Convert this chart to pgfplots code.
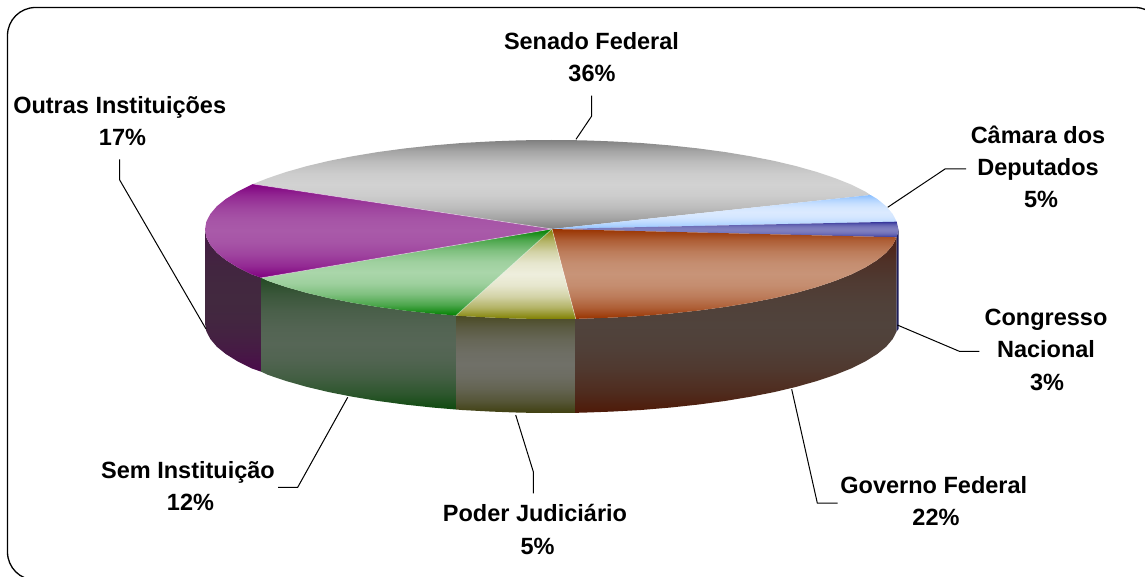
\documentclass[border=0pt]{standalone}
\usepackage{fontspec}
\setmainfont{Liberation Sans}
\usepackage{pgfplots}
\pgfplotsset{compat=1.18}

% Slice colours: edge and centre of each top face
\definecolor{senadoE}{HTML}{808080}\definecolor{senadoM}{HTML}{D2D2D2}
\definecolor{camaraE}{HTML}{8CC0FF}\definecolor{camaraM}{HTML}{DBEAFF}
\definecolor{congE}{HTML}{333399}\definecolor{congM}{HTML}{8080C0}
\definecolor{govE}{HTML}{993300}\definecolor{govM}{HTML}{C89478}
\definecolor{judE}{HTML}{808000}\definecolor{judM}{HTML}{EEEEDD}
\definecolor{semE}{HTML}{008000}\definecolor{semM}{HTML}{AAD6AA}
\definecolor{outE}{HTML}{800080}\definecolor{outM}{HTML}{A95AA9}
% Side walls: upper edge, middle, lower edge
\definecolor{outWa}{RGB}{68,24,68}\definecolor{outWb}{RGB}{66,41,63}\definecolor{outWc}{RGB}{75,10,75}
\definecolor{semWa}{RGB}{36,74,36}\definecolor{semWb}{RGB}{86,102,86}\definecolor{semWc}{RGB}{14,74,14}
\definecolor{judWa}{RGB}{74,74,36}\definecolor{judWb}{RGB}{112,112,104}\definecolor{judWc}{RGB}{64,64,16}
\definecolor{govWa}{RGB}{78,32,20}\definecolor{govWb}{RGB}{80,67,60}\definecolor{govWc}{RGB}{79,26,8}
\definecolor{congW}{RGB}{30,30,90}

% Rounded three-stop gradient: edges ease into a broad middle band
\colorlet{gradTop}{black}\colorlet{gradMid}{gray}\colorlet{gradBot}{black}
\pgfdeclareverticalshading[gradTop,gradMid,gradBot]{discgrad}{100bp}{%
  color(0bp)=(gradBot); color(25bp)=(gradBot);
  color(31.25bp)=(gradMid!45!gradBot); color(37.5bp)=(gradMid!75!gradBot);
  color(43.75bp)=(gradMid!93!gradBot); color(50bp)=(gradMid);
  color(56.25bp)=(gradMid!93!gradTop); color(62.5bp)=(gradMid!75!gradTop);
  color(68.75bp)=(gradMid!45!gradTop); color(75bp)=(gradTop); color(100bp)=(gradTop)}

\pgfplotsset{
  wall/.style n args={3}{draw=none,shade,shading=discgrad,
    /utils/exec={\colorlet{gradTop}{#1}\colorlet{gradMid}{#2}\colorlet{gradBot}{#3}}},
  face/.style 2 args={wall={#1}{#2}{#1}},
  leader/.style={black,line width=1pt,line join=miter},
  seam/.style={white,opacity=0.45,line width=0.7pt},
}
\tikzset{lab/.style={anchor=base,inner sep=0pt,text=black,
  font=\bfseries\fontsize{23.5}{28}\selectfont}}

\begin{document}
\begin{tikzpicture}
\useasboundingbox (0,0) rectangle (1145pt,577pt);
\begin{axis}[at={(0,0)},anchor=south west,scale only axis,
  width=1145pt,height=577pt,xmin=0,xmax=1145,ymin=0,ymax=577,
  y dir=reverse,axis lines=none,clip=false]

% outer frame, running past the right and lower page edges
\draw[black,line width=1.3pt,rounded corners=28pt]
  (axis cs:7.5,7.5) rectangle (axis cs:1163,580);

% side walls of the disc
\addplot[wall={outWa}{outWb}{outWc}] coordinates {
 (261.5,277.8)(251.4,274.3)(237.5,267.3)(225.9,260.1)(216.8,252.7)(210.3,245)(206.3,237.3)(205,229.5)
 (205,323.5)(206.3,331.3)(210.3,339)(216.8,346.7)(225.9,354.1)(237.5,361.3)(251.4,368.3)(261.5,371.8)} --cycle;
\addplot[wall={semWa}{semWb}{semWc}] coordinates {
 (456,315.5)(433,313.6)(405.1,310.6)(378.2,307)(352.8,302.8)(328.8,298.1)(306.5,292.8)(286.1,287)(267.7,280.8)(261.5,277.8)
 (261.5,371.8)(267.7,374.8)(286.1,381)(306.5,386.8)(328.8,392.1)(352.8,396.8)(378.2,401)(405.1,404.6)(433,407.6)(456,409.5)} --cycle;
\addplot[wall={judWa}{judWb}{judWc}] coordinates {
 (575.7,318.8)(551.5,319)(521.3,318.7)(491.3,317.6)(461.8,316)(456,315.5)
 (456,409.5)(461.8,410)(491.3,411.6)(521.3,412.7)(551.5,413)(575.7,412.8)} --cycle;
\addplot[wall={govWa}{govWb}{govWc}] coordinates {
 (896.7,237.3)(892.7,245)(886.2,252.7)(877.1,260.1)(865.5,267.3)(851.6,274.3)(835.3,280.8)(816.9,287)(796.5,292.8)(774.2,298.1)(750.2,302.8)(724.8,307)(697.9,310.6)(670,313.6)(641.2,316)(611.7,317.6)(581.7,318.7)(575.7,318.8)
 (575.7,412.8)(581.7,412.7)(611.7,411.6)(641.2,410)(670,407.6)(697.9,404.6)(724.8,401)(750.2,396.8)(774.2,392.1)(796.5,386.8)(816.9,381)(835.3,374.8)(851.6,368.3)(865.5,361.3)(877.1,354.1)(886.2,346.7)(892.7,339)(896.7,331.3)} --cycle;
\addplot[draw=none,fill=congW] coordinates {
 (898.5,229.5)(896.7,237.3)(896.7,331.3)(898.5,329)} --cycle;

% top faces, one wedge per institution
\addplot[face={senadoE}{senadoM}] coordinates {
 (552,229)(253,184)(267.7,178.2)(286.1,172)(306.5,166.2)(328.8,160.9)(352.8,156.2)(378.2,152)(405.1,148.4)(433,145.4)(461.8,143)(491.3,141.4)(521.3,140.3)(551.5,140)(581.7,140.3)(611.7,141.4)(641.2,143)(670,145.4)(697.9,148.4)(724.8,152)(750.2,156.2)(774.2,160.9)(796.5,166.2)(816.9,172)(835.3,178.2)(851.6,184.7)(865.5,191.7)(870.5,195)} --cycle;
\addplot[face={camaraE}{camaraM}] coordinates {
 (552,229)(870.5,195)(877.1,198.9)(886.2,206.3)(892.7,214)(896.7,221.7)} --cycle;
\addplot[face={congE}{congM}] coordinates {
 (552,229)(896.7,221.7)(898.5,229.5)(896.7,237.3)} --cycle;
\addplot[face={govE}{govM}] coordinates {
 (552,229)(896.7,237.3)(892.7,245)(886.2,252.7)(877.1,260.1)(865.5,267.3)(851.6,274.3)(835.3,280.8)(816.9,287)(796.5,292.8)(774.2,298.1)(750.2,302.8)(724.8,307)(697.9,310.6)(670,313.6)(641.2,316)(611.7,317.6)(581.7,318.7)(575.7,318.8)} --cycle;
\addplot[face={judE}{judM}] coordinates {
 (552,229)(575.7,318.8)(551.5,319)(521.3,318.7)(491.3,317.6)(461.8,316)(456,315.5)} --cycle;
\addplot[face={semE}{semM}] coordinates {
 (552,229)(456,315.5)(433,313.6)(405.1,310.6)(378.2,307)(352.8,302.8)(328.8,298.1)(306.5,292.8)(286.1,287)(267.7,280.8)(261.5,277.8)} --cycle;
\addplot[face={outE}{outM}] coordinates {
 (552,229)(261.5,277.8)(251.4,274.3)(237.5,267.3)(225.9,260.1)(216.8,252.7)(210.3,245)(206.3,237.3)(205,229.5)(206.3,221.7)(210.3,214)(216.8,206.3)(225.9,198.9)(237.5,191.7)(253,184)} --cycle;

% pale seams between neighbouring wedges
\addplot[seam] coordinates {(552,229)(253,184)};
\addplot[seam] coordinates {(552,229)(261.5,277.8)};
\addplot[seam] coordinates {(552,229)(456,315.5)};
\addplot[seam] coordinates {(552,229)(575.7,318.8)};

% leader lines from each label to its slice
\addplot[leader] coordinates {(591.7,95.7)(591.7,116)(576,139.3)};
\addplot[leader] coordinates {(966,169)(945,169)(887.7,207.3)};
\addplot[leader] coordinates {(979.3,351.3)(959.3,351.3)(897.3,325)};
\addplot[leader] coordinates {(837.7,503)(817.3,503)(791.7,389.3)};
\addplot[leader] coordinates {(533.3,493.3)(533.3,471.7)(515.7,415)};
\addplot[leader] coordinates {(278,487.3)(297.7,487.3)(347.7,397.3)};
\addplot[leader] coordinates {(119.7,159.3)(119.7,180)(206,329)};

% slice labels
\node[lab] at (axis cs:591.5,50) {Senado Federal};
\node[lab] at (axis cs:592,82) {36\%};
\node[lab] at (axis cs:1038,143.3) {Câmara dos};
\node[lab] at (axis cs:1038,175.7) {Deputados};
\node[lab] at (axis cs:1041,207.3) {5\%};
\node[lab] at (axis cs:1046,325) {Congresso};
\node[lab] at (axis cs:1046,357.7) {Nacional};
\node[lab] at (axis cs:1047,390) {3\%};
\node[lab] at (axis cs:933.8,493.3) {Governo Federal};
\node[lab] at (axis cs:936,525.7) {22\%};
\node[lab] at (axis cs:535,521.7) {Poder Judiciário};
\node[lab] at (axis cs:537.5,554) {5\%};
\node[lab] at (axis cs:188,478.3) {Sem Instituição};
\node[lab] at (axis cs:190.5,510) {12\%};
\node[lab] at (axis cs:119.7,113.3) {Outras Instituições};
\node[lab] at (axis cs:122.5,146) {17\%};
\end{axis}
\end{tikzpicture}
\end{document}
